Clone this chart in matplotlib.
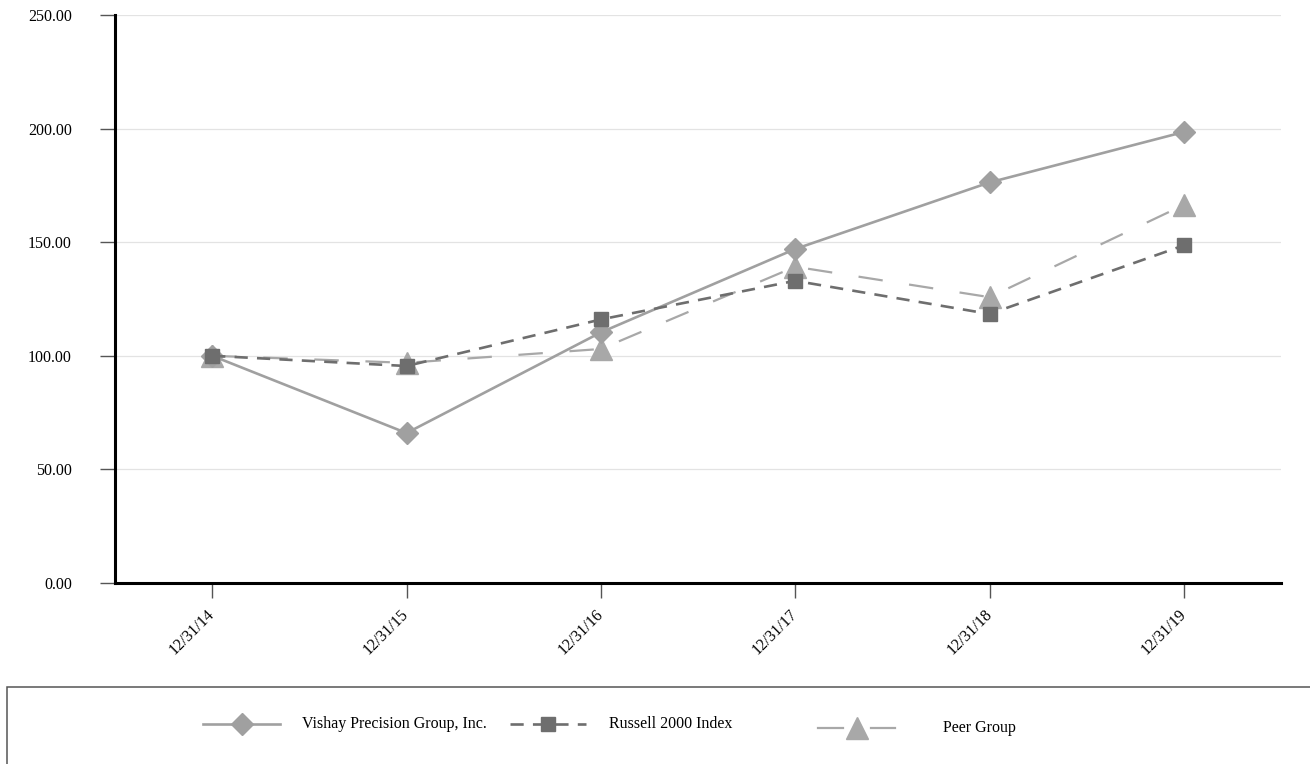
import matplotlib.pyplot as plt
from matplotlib.lines import Line2D
from matplotlib.patches import Rectangle

plt.rcParams['font.family'] = ['Liberation Serif', 'DejaVu Serif']

dates = ["12/31/14", "12/31/15", "12/31/16", "12/31/17", "12/31/18", "12/31/19"]
vpg = [100.0, 66.0, 110.3, 147.0, 176.3, 198.5]
russell = [100.0, 95.5, 116.0, 133.0, 118.4, 148.6]
peer = [100.0, 96.9, 103.0, 139.2, 125.8, 166.4]
yticks = [0, 50, 100, 150, 200, 250]

fig = plt.figure(figsize=(13.1, 7.64), dpi=100)
ax = fig.add_axes([0.0878, 0.2369, 0.8901, 0.7435])

x = range(len(dates))
ax.plot(x, vpg, color='#a0a0a0', lw=1.9, marker='D', ms=11, zorder=3)
ax.plot(x, russell, color='#6e6e6e', lw=1.9, ls=(0, (5, 3.5)), marker='s', ms=10.5, zorder=4)
ax.plot(x, peer, color='#a8a8a8', lw=1.6, ls=(0, (11, 12)), marker='^', ms=16, zorder=2)

ax.set_xlim(-0.5, 5.5)
ax.set_ylim(0, 250)
ax.set_yticks(yticks)
ax.set_yticklabels(["%.2f" % v for v in yticks], fontsize=11.5)
ax.set_xticks(list(x))
ax.set_xticklabels(dates, fontsize=11.5, rotation=45, ha='right', va='center', rotation_mode='anchor')
ax.grid(axis='y', color='#e3e3e3', lw=0.9, zorder=0)
ax.set_axisbelow(True)
ax.tick_params(axis='y', length=11, width=1, color='#555555', pad=20)
ax.tick_params(axis='x', length=11, width=1, color='#555555', pad=10)
for s in ['top', 'right']:
    ax.spines[s].set_visible(False)
for s in ['left', 'bottom']:
    ax.spines[s].set_linewidth(2.2)
    ax.spines[s].set_color('black')

# legend box below the chart
fig.add_artist(Rectangle((0.0053, -0.1), 1.1, 0.2008, transform=fig.transFigure,
                         fill=False, edgecolor='#555555', lw=1.1, clip_on=False))

def W(px):
    return px / 1310.0

def H(py):
    return (764 - py) / 764.0

fig.add_artist(Line2D([W(203), W(280)], [H(724)] * 2, color='#a0a0a0', lw=1.9, transform=fig.transFigure))
fig.add_artist(Line2D([W(242)], [H(724)], color='#a0a0a0', marker='D', ms=11, transform=fig.transFigure))
fig.text(W(302), H(724), "Vishay Precision Group, Inc.", fontsize=11.5, va='center')

fig.add_artist(Line2D([W(510), W(586)], [H(724)] * 2, color='#6e6e6e', lw=1.9, ls=(0, (5, 3.5)), transform=fig.transFigure))
fig.add_artist(Line2D([W(548)], [H(724)], color='#6e6e6e', marker='s', ms=10.5, transform=fig.transFigure))
fig.text(W(609), H(724), "Russell 2000 Index", fontsize=11.5, va='center')

fig.add_artist(Line2D([W(818), W(843)], [H(728)] * 2, color='#a8a8a8', lw=1.6, transform=fig.transFigure))
fig.add_artist(Line2D([W(871), W(895)], [H(728)] * 2, color='#a8a8a8', lw=1.6, transform=fig.transFigure))
fig.add_artist(Line2D([W(857)], [H(728)], color='#a8a8a8', marker='^', ms=16, transform=fig.transFigure))
fig.text(W(943), H(728), "Peer Group", fontsize=11.5, va='center')

fig.savefig("out.png", dpi=100)
